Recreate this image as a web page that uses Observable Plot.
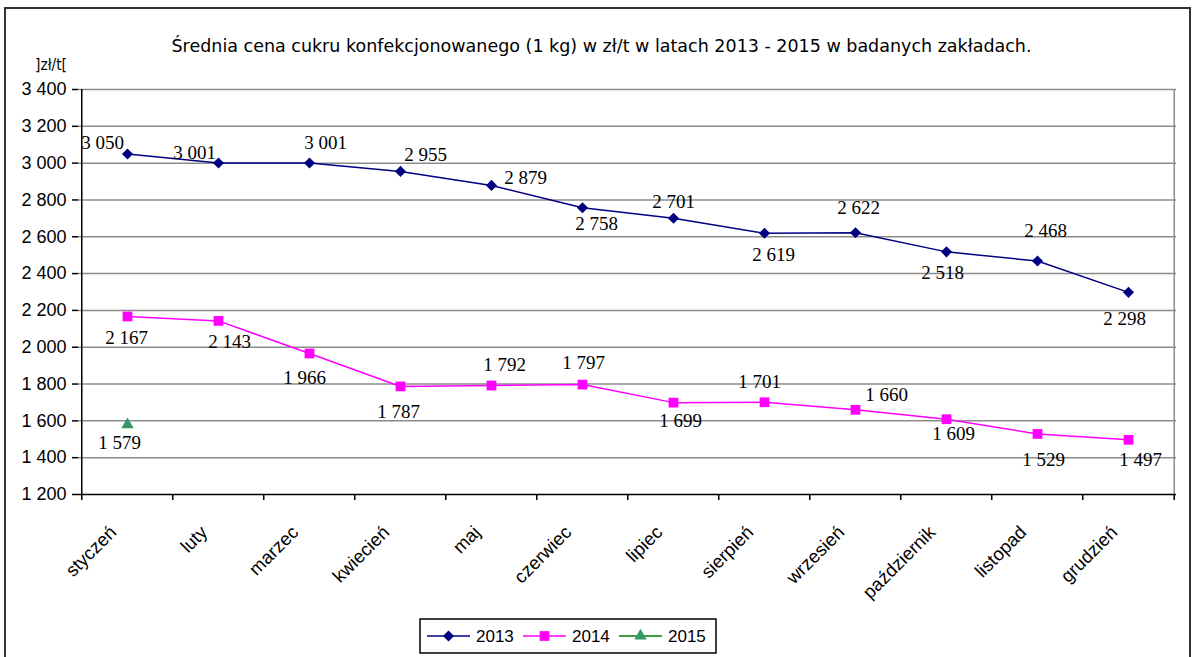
<!DOCTYPE html>
<html><head><meta charset="utf-8">
<script src="https://cdn.jsdelivr.net/npm/d3@7"></script>
<script src="https://cdn.jsdelivr.net/npm/@observablehq/plot@0.6"></script>
<style>
html,body{margin:0;padding:0;background:#fff;}
#wrap{position:relative;width:1196px;height:657px;overflow:hidden;background:#fff;}
#chart,#overlay{position:absolute;left:0;top:0;}
</style></head><body>
<div id="wrap"><div id="chart"></div><svg id="overlay" width="1196" height="657"></svg></div>
<script>
// ---- data ----
const months = ["styczeń","luty","marzec","kwiecień","maj","czerwiec","lipiec","sierpień","wrzesień","październik","listopad","grudzień"];
const values2013 = [3050,3001,3001,2955,2879,2758,2701,2619,2622,2518,2468,2298];
const values2014 = [2167,2143,1966,1787,1792,1797,1699,1701,1660,1609,1529,1497];
const values2015 = [1579];
const yTicks = [1200,1400,1600,1800,2000,2200,2400,2600,2800,3000,3200,3400];
const seriesNames = ["2013","2014","2015"];
const titleText = "Średnia cena cukru konfekcjonowanego (1 kg) w zł/t w latach 2013 - 2015  w badanych zakładach.";
const unitText = "]zł/t[";

// ---- label placement (pixel offsets, layout only) ----
const labelOffsets2013 = [[-25,-11],[-24,-10],[16,-20],[25,-17],[34,-8],[14,16],[0,-16],[9,22],[3,-25],[-4,21],[8,-30],[-4,27]];
const labelOffsets2014 = [[-1,21],[11,21],[-5,24],[-2,25],[13,-21],[1,-22],[7,18],[-5,-20],[31,-15],[7,15],[6,26],[12,20]];
const labelOffsets2015 = [[-8,18]];

const colors = {"2013":"#000080","2014":"#FF00FF","2015":"#339966"};
const legendLineColors = {"2013":"#000080","2014":"#FF00FF","2015":"#008000"};
const symbols = {"2013":"diamond2","2014":"square","2015":"triangle"};
const radii = {"2013":5,"2014":5.5,"2015":4.6};

const W = 1196, H = 657, mL = 78, mR = 20, mT = 89, mB = 163;
const half = (W - mL - mR) / months.length / 2;
const yMin = yTicks[0], yMax = yTicks[yTicks.length - 1];
const tickUnits = 6 * (yMax - yMin) / (H - mT - mB);
const fmt = d => d3.format(",")(d).replace(/,/g, " ");

const rows2013 = months.map((m, i) => ({m, v: values2013[i]}));
const rows2014 = months.map((m, i) => ({m, v: values2014[i]}));
const rows2015 = values2015.map((v, i) => ({m: months[i], v}));

const serif = "'Liberation Serif','Times New Roman',serif";
const sans = "Arial,'Liberation Sans',sans-serif";

function labelMarks(rows, offs) {
  return rows.map((r, i) => Plot.text([r], {
    x: "m", y: "v", text: d => fmt(d.v), dx: offs[i][0], dy: offs[i][1],
    fontSize: 19, fontFamily: serif, fill: "black"
  }));
}

const chart = Plot.plot({
  width: W, height: H,
  marginLeft: mL, marginRight: mR, marginTop: mT, marginBottom: mB,
  x: {type: "point", domain: months, padding: 0.5, axis: null},
  y: {domain: [yMin, yMax], axis: null},
  style: {background: "transparent", overflow: "visible"},
  marks: [
    Plot.ruleY(yTicks.slice(1), {y: d => d, stroke: "#8c8c8c", strokeWidth: 1.5}),
    Plot.ruleX([months[months.length - 1]], {x: d => d, dx: half, y1: yMin, y2: yMax, stroke: "#8c8c8c", strokeWidth: 1.5}),
    Plot.ruleX([months[0]], {x: d => d, dx: -half, y1: yMin, y2: yMax, stroke: "black", strokeWidth: 1.5}),
    Plot.ruleY([yMin], {y: d => d, stroke: "black", strokeWidth: 1.5}),
    Plot.ruleX(months, {x: d => d, dx: -half, y1: yMin, y2: yMin - tickUnits, stroke: "black", strokeWidth: 1.5}),
    Plot.ruleX([months[months.length - 1]], {x: d => d, dx: half, y1: yMin, y2: yMin - tickUnits, stroke: "black", strokeWidth: 1.5}),
    Plot.axisY(yTicks, {tickSize: 6, tickPadding: 6, tickFormat: fmt, fontSize: 18, fontFamily: sans, label: null, stroke: "black", strokeWidth: 1.5, fill: "black"}),
    Plot.text(months, {x: d => d, y: yMin, dy: 39, dx: -10, rotate: -45, textAnchor: "end", lineAnchor: "bottom", fontSize: 18.5, fontFamily: sans, fill: "black"}),
    Plot.line(rows2013, {x: "m", y: "v", stroke: colors["2013"], strokeWidth: 1.5}),
    Plot.line(rows2014, {x: "m", y: "v", stroke: colors["2014"], strokeWidth: 1.5}),
    Plot.dot(rows2013, {x: "m", y: "v", symbol: symbols["2013"], r: radii["2013"], fill: colors["2013"]}),
    Plot.dot(rows2014, {x: "m", y: "v", symbol: symbols["2014"], r: radii["2014"], fill: colors["2014"]}),
    Plot.dot(rows2015, {x: "m", y: "v", symbol: symbols["2015"], r: radii["2015"], fill: colors["2015"]}),
    ...labelMarks(rows2013, labelOffsets2013),
    ...labelMarks(rows2014, labelOffsets2014),
    ...labelMarks(rows2015, labelOffsets2015)
  ]
});
document.getElementById("chart").appendChild(chart);

// ---- overlay: border, title, unit, legend ----
const ov = d3.select("#overlay");
ov.append("rect").attr("x", 5).attr("y", 8).attr("width", 1185).attr("height", 700)
  .attr("fill", "none").attr("stroke", "#333").attr("stroke-width", 2);
ov.append("text").attr("x", 601.5).attr("y", 52).attr("text-anchor", "middle")
  .attr("textLength", 860).attr("lengthAdjust", "spacingAndGlyphs")
  .style("font-family", "'DejaVu Sans',sans-serif").style("font-size", "17px").text(titleText);
ov.append("text").attr("x", 35).attr("y", 70).attr("textLength", 32).attr("lengthAdjust", "spacingAndGlyphs")
  .style("font-family", "'DejaVu Sans',sans-serif").style("font-size", "15px").text(unitText);

const lg = ov.append("g");
lg.append("rect").attr("x", 420).attr("y", 619).attr("width", 296).attr("height", 34)
  .attr("fill", "white").attr("stroke", "black").attr("stroke-width", 1.5);
const symMap = {diamond2: d3.symbolDiamond2, square: d3.symbolSquare, triangle: d3.symbolTriangle};
seriesNames.forEach((s, i) => {
  const x0 = 427 + i * 96;
  const cy = 636;
  lg.append("line").attr("x1", x0).attr("x2", x0 + 43).attr("y1", cy).attr("y2", cy)
    .attr("stroke", legendLineColors[s]).attr("stroke-width", 1.5);
  lg.append("path").attr("d", d3.symbol(symMap[symbols[s]], radii[s] * radii[s] * Math.PI)())
    .attr("transform", `translate(${x0 + 21.5},${cy})`).attr("fill", colors[s]);
  lg.append("text").attr("x", x0 + 49).attr("y", cy + 6)
    .style("font-family", sans).style("font-size", "17px").text(s);
});
</script>
</body></html>
